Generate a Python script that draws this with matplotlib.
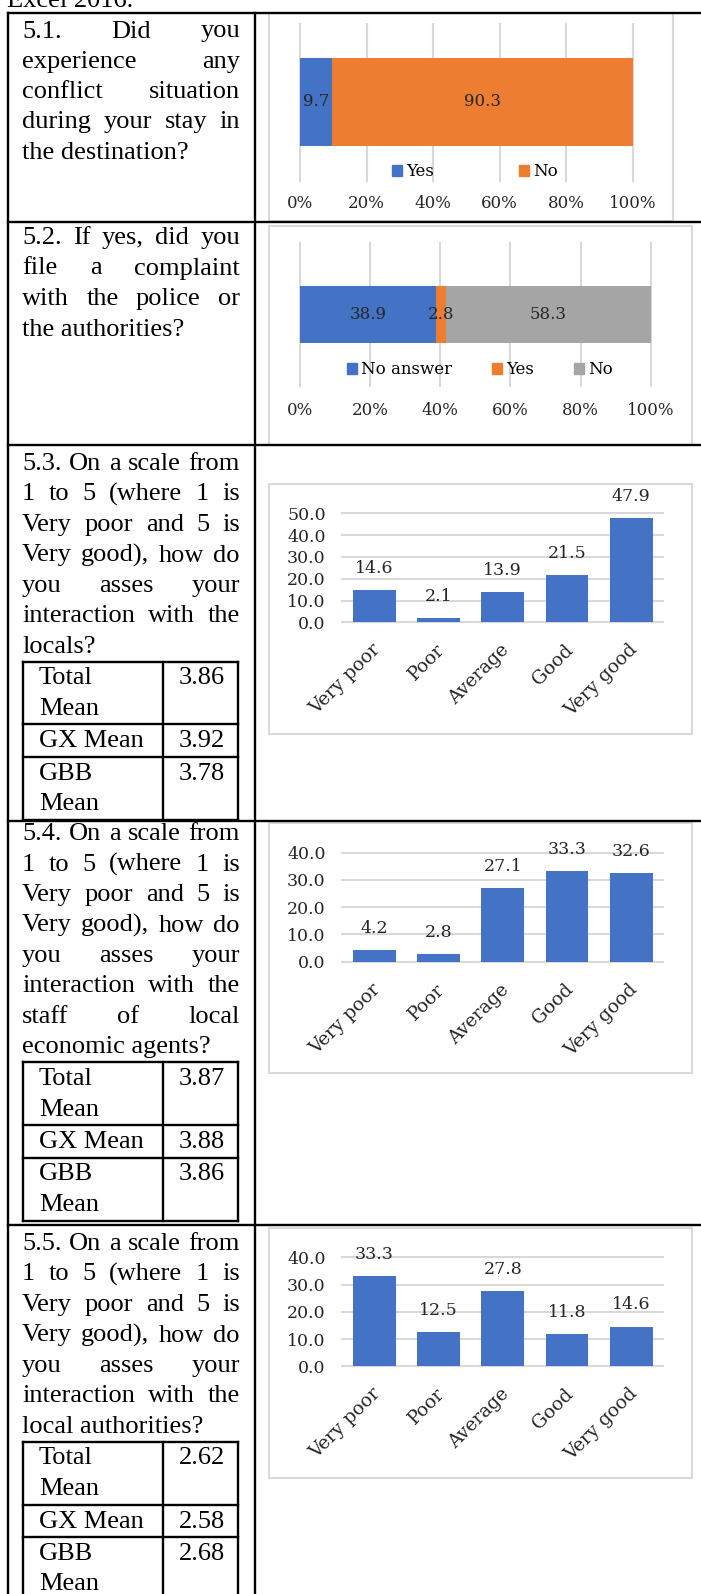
import numpy as np
import matplotlib
matplotlib.use("Agg")
import matplotlib.pyplot as plt
import matplotlib.transforms as mtransforms
from matplotlib.lines import Line2D
from matplotlib.patches import Rectangle, Patch

# ---- data ----
q1_labels = ["Yes", "No"]
q1_values = [9.7, 90.3]
q2_labels = ["No answer", "Yes", "No"]
q2_values = [38.9, 2.8, 58.3]
pct_ticks = [0, 20, 40, 60, 80, 100]

scale_cats = ["Very poor", "Poor", "Average", "Good", "Very good"]
q3_values = [14.6, 2.1, 13.9, 21.5, 47.9]
q4_values = [4.2, 2.8, 27.1, 33.3, 32.6]
q5_values = [33.3, 12.5, 27.8, 11.8, 14.6]

mean_names = [["Total", "Mean"], ["GX Mean"], ["GBB", "Mean"]]
q3_means = ["3.86", "3.92", "3.78"]
q4_means = ["3.87", "3.88", "3.86"]
q5_means = ["2.62", "2.58", "2.68"]

q1_text = ["5.1. Did you", "experience any", "conflict situation",
           "during your stay in", "the destination?"]
q2_text = ["5.2. If yes, did you", "file a complaint", "with the police or",
           "the authorities?"]
scale_intro = ["1 to 5 (where 1 is", "Very poor and 5 is",
               "Very good), how do", "you asses your", "interaction with the"]
q3_text = ["5.3. On a scale from"] + scale_intro + ["locals?"]
q4_text = ["5.4. On a scale from"] + scale_intro + ["staff of local", "economic agents?"]
q5_text = ["5.5. On a scale from"] + scale_intro + ["local authorities?"]

BLUE, ORANGE, GREY = "#4472C4", "#ED7D31", "#A5A5A5"
GRID = "#d9d9d9"
INK = "#262626"

W, H = 701, 1594
fig = plt.figure(figsize=(W / 100, H / 100), dpi=100)
renderer = fig.canvas.get_renderer()


def fx(x):
    return x / W


def fy(y):
    return 1 - y / H


def rect(x0, y0, x1, y1):
    return [fx(x0), fy(y1), fx(x1) - fx(x0), fy(y0) - fy(y1)]


SERIF = "Liberation Serif"
CHART = "DejaVu Serif"
TXT = dict(family=SERIF, fontsize=19, color="black")
LW = 1.7


def hline(y, x0=7.5, x1=W):
    fig.add_artist(Line2D([fx(x0), fx(x1)], [fy(y), fy(y)],
                          transform=fig.transFigure, color="black", lw=LW))


def vline(x, y0, y1):
    fig.add_artist(Line2D([fx(x), fx(x)], [fy(y0), fy(y1)],
                          transform=fig.transFigure, color="black", lw=LW))


def word_width(s):
    t = fig.text(0, 0, s, **TXT)
    w = t.get_window_extent(renderer).width
    t.remove()
    return w


def paragraph(lines, first_base, step=30.5, x0=22, x1=240):
    # justified lines, last line left aligned (like the Word cell)
    for i, line in enumerate(lines):
        yb = first_base + i * step
        words = line.split()
        if i == len(lines) - 1:
            fig.text(fx(x0), fy(yb), line, va="baseline", **TXT)
            continue
        ws = [word_width(w) for w in words]
        gap = (x1 - x0 - sum(ws)) / (len(words) - 1)
        x = x0
        for w, wd in zip(words, ws):
            fig.text(fx(x), fy(yb), w, va="baseline", **TXT)
            x += wd + gap


def mean_table(top, values):
    xs = [22.7, 163, 238.3]
    hs = [63, 32.5, 63]
    ys = [top]
    for h in hs:
        ys.append(ys[-1] + h)
    for y in ys:
        hline(y, xs[0], xs[2])
    for x in xs:
        vline(x, ys[0], ys[-1])
    for names, val, yt in zip(mean_names, values, ys[:-1]):
        for k, nm in enumerate(names):
            fig.text(fx(39), fy(yt + 23 + k * 30.5), nm, va="baseline", **TXT)
        fig.text(fx(179), fy(yt + 23), val, va="baseline", **TXT)


def chart_box(x0, y0, x1, y1):
    fig.add_artist(Rectangle((fx(x0), fy(y1)), fx(x1) - fx(x0), fy(y0) - fy(y1),
                             transform=fig.transFigure, fill=False,
                             edgecolor=GRID, lw=1.5))


def stacked_chart(box, area, bar_top, bar_bot, labels, values, colors,
                  legend_x, legend_y, colspace, tick_pad):
    chart_box(*box)
    x0, y0, x1, y1 = area
    ax = fig.add_axes(rect(x0, y0, x1, y1))
    ax.patch.set_alpha(0)
    ax.set_xlim(0, 100)
    ax.set_ylim(0, 1)
    height = (bar_bot - bar_top) / (y1 - y0)
    center = (y1 - (bar_top + bar_bot) / 2) / (y1 - y0)
    lefts = np.concatenate([[0], np.cumsum(values)[:-1]])
    ax.barh(center, values, left=lefts, height=height, color=colors, zorder=2)
    for l, v in zip(lefts, values):
        ax.text(l + v / 2, center, f"{v:.1f}", ha="center", va="center",
                family=CHART, fontsize=12, color=INK, zorder=3)
    ax.set_xticks(pct_ticks, [f"{t}%" for t in pct_ticks])
    ax.set_yticks([])
    ax.grid(axis="x", color=GRID, lw=1.5)
    ax.set_axisbelow(True)
    for gl in ax.get_xgridlines():
        gl.set_clip_on(False)
    for s in ax.spines.values():
        s.set_visible(False)
    ax.tick_params(axis="x", length=0, pad=tick_pad, labelsize=12, labelcolor=INK)
    for lab in ax.get_xticklabels():
        lab.set_family(CHART)
    handles = [Patch(color=c) for c in colors]
    ax.legend(handles, labels, loc="center",
              bbox_to_anchor=(fx(legend_x), fy(legend_y)),
              bbox_transform=fig.transFigure, ncol=len(labels), frameon=False,
              prop=dict(family=CHART, size=12), handlelength=0.6,
              handleheight=0.6, handletextpad=0.25, columnspacing=colspace,
              borderpad=0, borderaxespad=0)


def column_chart(box_top, values, ymax):
    chart_box(269, box_top, 692.3, box_top + 250)
    ax = fig.add_axes(rect(342.3, box_top + 29.3, 663.3, box_top + 138.3))
    ax.patch.set_alpha(0)
    x = np.arange(len(scale_cats))
    ax.bar(x, values, width=0.665, color=BLUE, zorder=2)
    ax.set_xlim(-0.5, len(x) - 0.5)
    ax.set_ylim(0, ymax)
    ticks = np.arange(0, ymax + 1, 10)
    ax.set_yticks(ticks, [f"{t:.1f}" for t in ticks])
    ax.set_xticks(x, scale_cats)
    ax.grid(axis="y", color=GRID, lw=1.5)
    ax.set_axisbelow(True)
    for gl in ax.get_ygridlines():
        gl.set_clip_on(False)
    for s in ax.spines.values():
        s.set_visible(False)
    ax.tick_params(axis="y", length=0, pad=12, labelsize=12.5, labelcolor=INK)
    ax.tick_params(axis="x", length=0, pad=18, labelsize=13.5, labelcolor=INK)
    for lab in ax.get_yticklabels() + ax.get_xticklabels():
        lab.set_family(CHART)
    shift = mtransforms.ScaledTranslation(3 / 100, 0, fig.dpi_scale_trans)
    for lab in ax.get_xticklabels():
        lab.set_rotation(45)
        lab.set_ha("right")
        lab.set_va("center")
        lab.set_rotation_mode("anchor")
        lab.set_transform(lab.get_transform() + shift)
    for xi, v in zip(x, values):
        ax.annotate(f"{v:.1f}", (xi, v), xytext=(0, 15.5), textcoords="offset points",
                    ha="center", va="center", family=CHART, fontsize=12.5,
                    color=INK, annotation_clip=False)


# ---- document table ----
fig.text(fx(7), fy(7), "Excel 2016.", va="baseline", **TXT)

for y in [12.5, 222, 445, 821, 1225]:
    hline(y)
vline(7.5, 12.5, H)
vline(255, 12.5, H)

paragraph(q1_text, 37.5, step=30.3)
paragraph(q2_text, 244)
paragraph(q3_text, 470)
mean_table(661.5, q3_means)
paragraph(q4_text, 840)
mean_table(1062, q4_means)
paragraph(q5_text, 1250)
mean_table(1441.5, q5_means)

# ---- charts ----
stacked_chart((269, 13.3, 673, 220.7), (300, 24, 632.7, 181), 58.3, 145.7,
              q1_labels, q1_values, [BLUE, ORANGE], 474.5, 171.7, 5.1, 10.3)
stacked_chart((269, 225.7, 691.7, 445), (300, 242.7, 650.7, 386), 286, 342.7,
              q2_labels, q2_values, [BLUE, ORANGE, GREY], 480, 370, 2.4, 11.2)

column_chart(484, q3_values, 50)
column_chart(823.4, q4_values, 40)
column_chart(1228, q5_values, 40)

fig.savefig("out.png", dpi=100)
